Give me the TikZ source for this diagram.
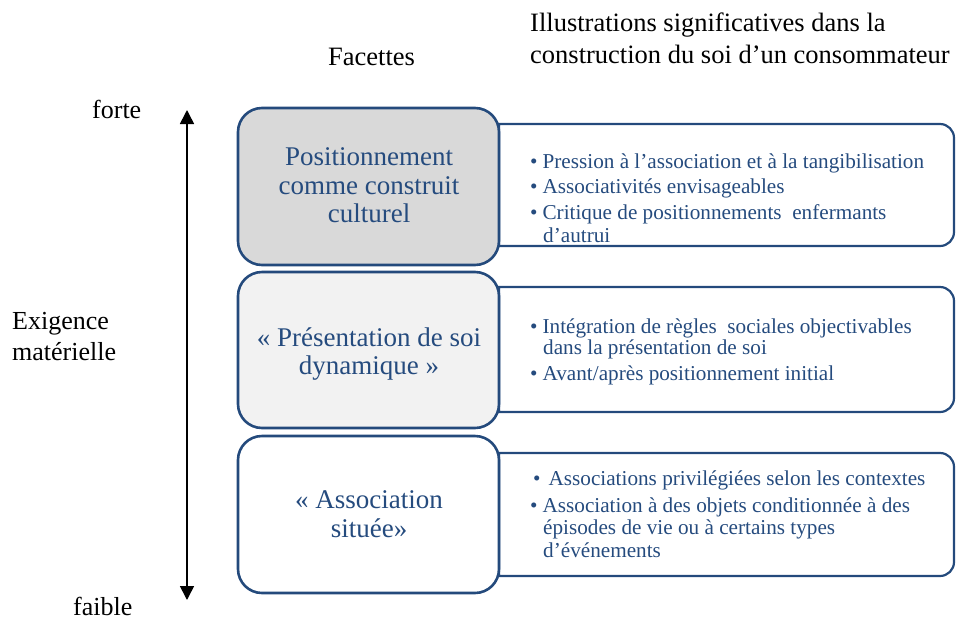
\documentclass[tikz,border=0pt]{standalone}
\usepackage{fontspec}
\setmainfont{Liberation Serif}
\usetikzlibrary{arrows.meta}
\definecolor{bord}{HTML}{244A7C}
\definecolor{txtb}{HTML}{254B7E}
\definecolor{fillA}{HTML}{D9D9D9}
\definecolor{fillB}{HTML}{F2F2F2}
\tikzset{
  facet/.style={draw=bord, line width=2.6pt, rounded corners=24pt},
  illus/.style={draw=bord, line width=2.2pt},
  facettxt/.style={anchor=base, text=txtb, font=\fontsize{27}{30}\selectfont, inner sep=0pt},
  bul/.style={anchor=base west, text=txtb, font=\fontsize{21.2}{23}\selectfont, inner sep=0pt},
  head/.style={anchor=base west, font=\fontsize{26.5}{29}\selectfont, inner sep=0pt},
  side/.style={anchor=base west, font=\fontsize{26}{29}\selectfont, inner sep=0pt},
}
\begin{document}
\begin{tikzpicture}[x=1pt,y=-1pt]
\useasboundingbox (0,0) rectangle (956,619);
% headers
\node[head] (facettes) at (328,65) {Facettes};
\node[head] (ill1) at (530,31) {Illustrations significatives dans la};
\node[head] (ill2) at (530,63) {construction du soi d’un consommateur};
% side labels
\node[side] (forte) at (92,118) {forte};
\node[side] (faible) at (73,615) {faible};
\node[side] (exig1) at (12,329) {Exigence};
\node[side] (exig2) at (12,360) {matérielle};
\coordinate (atop) at (187,110);
\coordinate (abot) at (187,600);
\draw[line width=1.6pt, {Triangle[length=14pt,width=14pt]}-{Triangle[length=14pt,width=14pt]}] (atop) -- (abot);
% right boxes
\foreach \t/\b/\n in {124/246/r1, 287/412/r2, 453/576/r3}{
  \draw[illus] (499,\t) -- (940,\t) arc[start angle=90,end angle=0,radius=14pt] -- (954,\b-14) arc[start angle=0,end angle=-90,radius=14pt] -- (499,\b) -- cycle;
  \coordinate (\n) at (499,\t);
}
% left boxes
\node[facet, fill=fillA, minimum width=261pt, minimum height=157pt] (f1) at (368.5,186.5) {};
\node[facet, fill=fillB, minimum width=261pt, minimum height=156pt] (f2) at (368.5,350) {};
\node[facet, fill=white, minimum width=261pt, minimum height=157pt] (f3) at (368.5,514.5) {};
% facet texts
\node[facettxt] (t11) at (369,165) {Positionnement};
\node[facettxt] (t12) at (369,194) {comme construit};
\node[facettxt] (t13) at (369,222) {culturel};
\node[facettxt] (t21) at (369,346) {« Présentation de soi};
\node[facettxt] (t22) at (369,374) {dynamique »};
\node[facettxt] (t31) at (369,508) {« Association};
\node[facettxt] (t32) at (369,537) {située»};
% bullets box 1
\node[bul] (b11) at (530,168) {•\hspace{5pt}Pression à l’association et à la tangibilisation};
\node[bul] (b12) at (530,193) {•\hspace{5pt}Associativités envisageables};
\node[bul] (b13) at (530,219) {•\hspace{5pt}Critique de positionnements\ \ enfermants};
\node[bul] (b14) at (543,242) {d’autrui};
% bullets box 2
\node[bul] (b21) at (530,333) {•\hspace{5pt}Intégration de règles\ \ sociales objectivables};
\node[bul] (b22) at (543,354) {dans la présentation de soi};
\node[bul] (b23) at (530,380) {•\hspace{5pt}Avant/après positionnement initial};
% bullets box 3
\node[bul] (b31) at (533,485) {•\hspace{8pt}Associations privilégiées selon les contextes};
\node[bul] (b32) at (530,512) {•\hspace{5pt}Association à des objets conditionnée à des};
\node[bul] (b33) at (543,534) {épisodes de vie ou à certains types};
\node[bul] (b34) at (543,557) {d’événements};
\end{tikzpicture}
\end{document}
